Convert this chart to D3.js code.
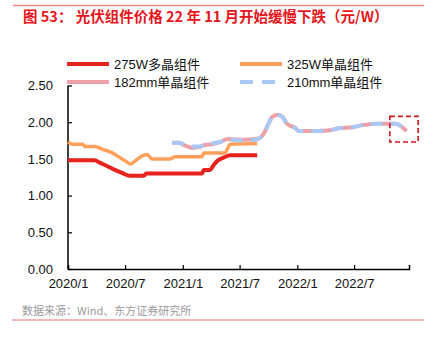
<!DOCTYPE html>
<html><head><meta charset="utf-8">
<script src="https://cdn.jsdelivr.net/npm/d3@7"></script>
<style>
body{margin:0;background:#fff;}
svg{display:block;font-family:"Liberation Sans",Arial,"Noto Sans CJK SC",sans-serif;}
</style></head>
<body><svg id="c" width="434" height="338"></svg>
<script>
const titleText = "图 53：  光伏组件价格 22 年 11 月开始缓慢下跌（元/W）";
const sourceText = "数据来源：Wind、东方证券研究所";
const seriesNames = ["275W多晶组件","325W单晶组件","182mm单晶组件","210mm单晶组件"];
const yTicks = [0,0.5,1.0,1.5,2.0,2.5];
const xTickDates = ["2020-01-01","2020-07-01","2021-01-01","2021-07-01","2022-01-01","2022-07-01"];
const xTickLabels = ["2020/1","2020/7","2021/1","2021/7","2022/1","2022/7"];

const dates275 = ["2020-01-01","2020-03-26","2020-04-11","2020-05-06","2020-05-29","2020-06-21","2020-07-16","2020-08-30","2020-09-06","2021-03-03","2021-03-09","2021-03-28","2021-04-10","2021-04-23","2021-05-12","2021-06-01","2021-08-26"];
const vals275  = [1.48,1.48,1.45,1.40,1.35,1.31,1.27,1.27,1.30,1.30,1.35,1.35,1.42,1.48,1.52,1.55,1.55];

const dates325 = ["2020-01-01","2020-01-16","2020-02-17","2020-02-24","2020-03-26","2020-04-20","2020-05-13","2020-06-14","2020-07-03","2020-07-19","2020-08-04","2020-08-20","2020-09-09","2020-09-25","2020-11-22","2020-12-08","2021-03-03","2021-03-09","2021-05-15","2021-06-01","2021-08-26"];
const vals325  = [1.73,1.70,1.70,1.67,1.67,1.63,1.60,1.52,1.47,1.43,1.48,1.53,1.56,1.50,1.50,1.53,1.53,1.58,1.58,1.70,1.71];

const dates182 = ["2020-11-28","2020-12-17","2021-01-09","2021-02-01","2021-02-20","2021-03-12","2021-04-04","2021-04-29","2021-05-25","2021-07-18","2021-08-20","2021-09-08","2021-09-18","2021-09-30","2021-10-13","2021-10-29","2021-11-15","2021-11-27","2021-12-10","2021-12-23","2022-01-05","2022-03-08","2022-04-15","2022-05-17","2022-06-25","2022-07-27","2022-09-23","2022-11-10","2022-11-26","2022-12-15"];
const vals182  = [1.72,1.72,1.68,1.65,1.66,1.69,1.70,1.73,1.77,1.76,1.77,1.80,1.86,1.97,2.07,2.10,2.07,1.99,1.95,1.93,1.88,1.88,1.89,1.92,1.93,1.96,1.98,1.98,1.95,1.88];

const dates210 = ["2020-11-28","2020-12-17","2021-01-09","2021-02-01","2021-02-20","2021-03-12","2021-04-04","2021-04-29","2021-05-25","2021-07-18","2021-08-20","2021-09-08","2021-09-18","2021-09-30","2021-10-13","2021-10-29","2021-11-15","2021-11-27","2021-12-10","2021-12-23","2022-01-05","2022-03-08","2022-04-15","2022-05-17","2022-06-25","2022-07-27","2022-09-23","2022-11-10","2022-11-26","2022-12-15"];
const vals210  = [1.72,1.72,1.69,1.67,1.67,1.69,1.71,1.73,1.76,1.75,1.76,1.80,1.86,1.97,2.07,2.10,2.07,1.99,1.95,1.93,1.88,1.88,1.89,1.92,1.93,1.96,1.98,1.98,1.95,1.88];

const boxRange = {from:"2022-10-23", to:"2023-01-21", lo:1.73, hi:2.08};

const colors = ["#e8221c","#ffa05a","#eca0a7","#a9c8f5"];

const svg = d3.select("#c");
const parse = d3.timeParse("%Y-%m-%d");
const x = d3.scaleTime().domain([parse("2020-01-01"), parse("2022-12-23")]).range([68, 409]);
const y = d3.scaleLinear().domain([0, 2.5]).range([269, 85.5]);

// header / footer rules
svg.append("line").attr("x1",13).attr("x2",424).attr("y1",5.5).attr("y2",5.5).attr("stroke","#f08a8a").attr("stroke-width",1.5);
svg.append("text").attr("x",23).attr("y",22).attr("fill","#e8141c").attr("font-size",14.5).attr("font-weight","bold")
  .attr("font-family","'Noto Sans CJK SC','Liberation Sans',sans-serif").text(titleText);
svg.append("line").attr("x1",12).attr("x2",424).attr("y1",320).attr("y2",320).attr("stroke","#f4a0a0").attr("stroke-width",1.5);
svg.append("text").attr("x",22).attr("y",315).attr("fill","#9a9a9a").attr("font-size",11)
  .attr("font-family","'Noto Sans CJK SC','Liberation Sans',sans-serif").text(sourceText);

// axes
const yAxis = d3.axisLeft(y).tickValues(yTicks).tickSize(-4).tickPadding(15).tickFormat(d3.format(".2f"));
const gy = svg.append("g").attr("transform","translate(68,0)").call(yAxis);
const xAxis = d3.axisBottom(x).tickValues(xTickDates.map(parse)).tickSize(-4).tickPadding(10)
  .tickFormat((d,i)=>xTickLabels[i]);
const gx = svg.append("g").attr("transform","translate(0,269)").call(xAxis);
[gy,gx].forEach(g=>{
  g.select(".domain").attr("stroke","#000").attr("stroke-width",1.5);
  g.selectAll(".tick line").attr("stroke","#000").attr("stroke-width",1.2);
  g.selectAll(".tick text").attr("fill","#111").attr("font-size",13).attr("font-family","'Liberation Sans',Arial,sans-serif");
});
gy.select(".domain").attr("d","M0,"+y(2.5)+"V"+y(0));

// lines
const series = [
  {d:dates275,v:vals275,w:4,dash:null},
  {d:dates325,v:vals325,w:3.5,dash:null},
  {d:dates182,v:vals182,w:4,dash:null},
  {d:dates210,v:vals210,w:4,dash:"12,8"}
];
const line = d3.line().x(p=>x(p[0])).y(p=>y(p[1])).curve(d3.curveMonotoneX);
series.forEach((s,i)=>{
  const pts = s.d.map((dd,k)=>[parse(dd), s.v[k]]);
  svg.append("path").attr("d",line(pts)).attr("fill","none").attr("stroke",colors[i])
    .attr("stroke-width",s.w).attr("stroke-linejoin","round").attr("stroke-dasharray",s.dash);
});

// highlight box
const bx0 = x(parse(boxRange.from)), bx1 = x(parse(boxRange.to));
svg.append("rect").attr("x",bx0).attr("y",y(boxRange.hi)).attr("width",bx1-bx0).attr("height",y(boxRange.lo)-y(boxRange.hi))
  .attr("fill","none").attr("stroke","#c8161d").attr("stroke-width",1.6).attr("stroke-dasharray","5,3");

// legend
const leg = [
  {x:67,y:64},{x:240,y:64},{x:67,y:82},{x:240,y:82}
];
seriesNames.forEach((n,i)=>{
  const g = svg.append("g");
  g.append("line").attr("x1",leg[i].x).attr("x2",leg[i].x+42).attr("y1",leg[i].y).attr("y2",leg[i].y)
    .attr("stroke",colors[i]).attr("stroke-width",4).attr("stroke-dasharray",i===3?"13,9":null);
  g.append("text").attr("x",leg[i].x+47).attr("y",leg[i].y+4.5).attr("font-size",13).attr("fill","#111").text(n);
});
</script></body></html>
